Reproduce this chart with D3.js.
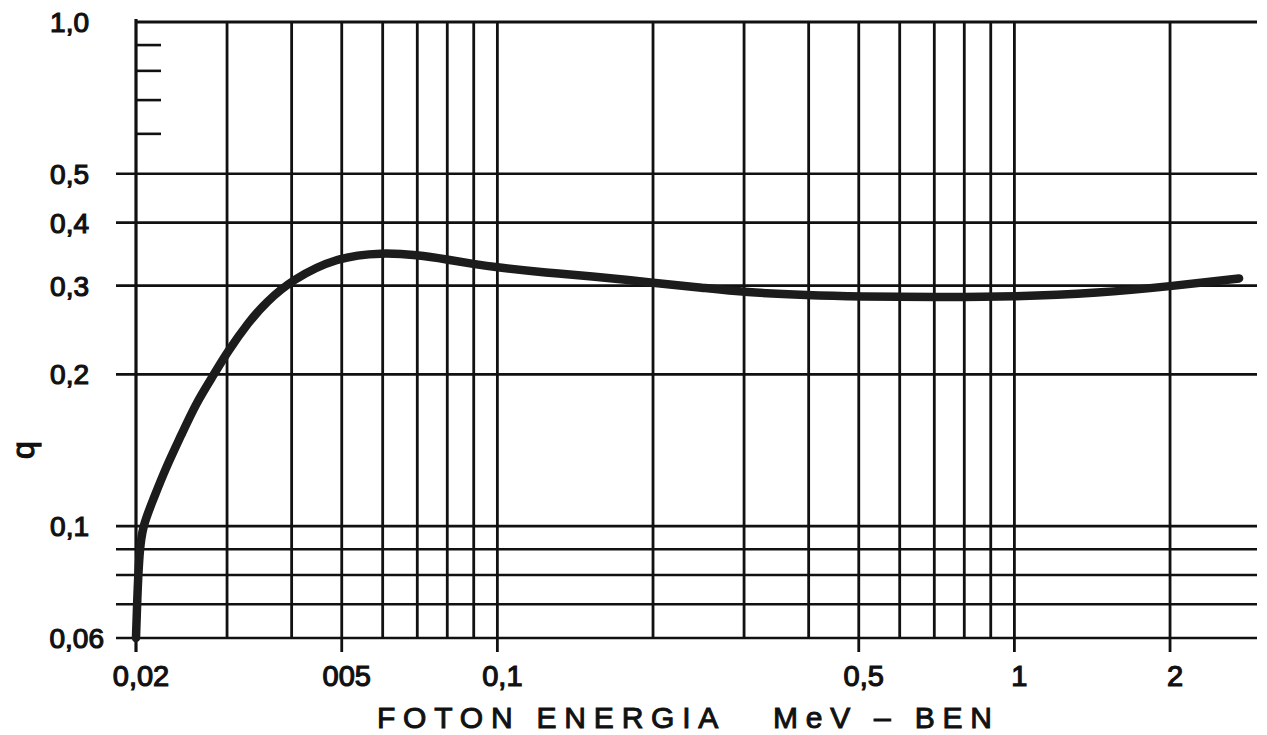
<!DOCTYPE html>
<html>
<head>
<meta charset="utf-8">
<script src="https://cdn.jsdelivr.net/npm/d3@7"></script>
<style>
    body { margin: 0; background: #fff; }
    svg { display: block; font-family: "Liberation Sans", Arial, sans-serif; }
</style>
</head>
<body>
<div id="root"></div>
<script>
// photon energy (MeV) and q
const energy = [0.0200, 0.0201, 0.0203, 0.0206, 0.0216, 0.0228, 0.0245, 0.0261, 0.0283, 0.0300,
    0.0331, 0.0357, 0.040, 0.049, 0.060, 0.070, 0.080, 0.090, 0.100, 0.125,
    0.150, 0.200, 0.250, 0.300, 0.400, 0.500, 0.700, 1.00, 1.46, 2.00, 2.72];
const qValues = [0.060, 0.071, 0.089, 0.100, 0.113, 0.130, 0.152, 0.175, 0.200, 0.221,
    0.255, 0.278, 0.308, 0.342, 0.349, 0.345, 0.338, 0.331, 0.326, 0.318,
    0.3136, 0.304, 0.297, 0.291, 0.287, 0.2855, 0.2845, 0.285, 0.290, 0.299, 0.310];

const xGrid = [0.02, 0.03, 0.04, 0.05, 0.06, 0.07, 0.08, 0.09, 0.1,
    0.2, 0.3, 0.4, 0.5, 0.6, 0.7, 0.8, 0.9, 1, 2];
const xTickValues = [0.02, 0.05, 0.1, 0.5, 1, 2];
const xTickLabels = ["0,02", "005", "0,1", "0,5", "1", "2"];

const yGrid = [0.06, 0.07, 0.08, 0.09, 0.1, 0.2, 0.3, 0.4, 0.5];
const yMinorTicks = [0.6, 0.7, 0.8, 0.9];
const yTickValues = [0.06, 0.1, 0.2, 0.3, 0.4, 0.5, 1];
const yTickLabels = ["0,06", "0,1", "0,2", "0,3", "0,4", "0,5", "1,0"];

const width = 1267, height = 735;
const ink = "#111";

const svg = d3.select("#root")
    .append("svg")
    .attr("width", width)
    .attr("height", height);

const x = d3.scaleLog()
    .domain([0.02, 2.946])
    .range([136, 1257]);

const y = d3.scaleLog()
    .domain([0.06, 1])
    .range([638, 22]);

const plotLeft = x(0.02), plotRight = x.range()[1];
const plotTop = y(1), plotBottom = y(0.06);

// vertical grid
svg.append("g")
    .selectAll("line")
    .data(xGrid)
    .enter()
    .append("line")
        .attr("x1", d => x(d))
        .attr("x2", d => x(d))
        .attr("y1", d => d === 0.02 ? plotTop - 3 : plotTop)
        .attr("y2", d => xTickValues.includes(d) ? plotBottom + 14 : plotBottom)
        .attr("stroke", ink)
        .attr("stroke-width", d => d === 0.02 ? 3.2 : 2.8);

// horizontal grid, sticking out a little to the left
svg.append("g")
    .selectAll("line")
    .data(yGrid)
    .enter()
    .append("line")
        .attr("x1", plotLeft - 20)
        .attr("x2", plotRight)
        .attr("y1", d => y(d))
        .attr("y2", d => y(d))
        .attr("stroke", ink)
        .attr("stroke-width", 2.6);

svg.append("line")
    .attr("x1", plotLeft)
    .attr("x2", plotRight)
    .attr("y1", plotTop)
    .attr("y2", plotTop)
    .attr("stroke", ink)
    .attr("stroke-width", 2.8);

// short ticks between 0.5 and 1.0
svg.append("g")
    .selectAll("line")
    .data(yMinorTicks)
    .enter()
    .append("line")
        .attr("x1", plotLeft)
        .attr("x2", plotLeft + 25)
        .attr("y1", d => y(d))
        .attr("y2", d => y(d))
        .attr("stroke", ink)
        .attr("stroke-width", 2.6);

// the curve
const line = d3.line()
    .x((d, i) => x(energy[i]))
    .y(d => y(d))
    .curve(d3.curveBasis);

svg.append("path")
    .datum(qValues)
    .attr("d", line)
    .attr("fill", "none")
    .attr("stroke", "#1c1c1c")
    .attr("stroke-width", 8.5)
    .attr("stroke-linecap", "round")
    .attr("stroke-linejoin", "round");

// tick labels
svg.append("g")
    .selectAll("text")
    .data(xTickValues)
    .enter()
    .append("text")
        .attr("x", d => x(d) + 5)
        .attr("y", 686)
        .attr("text-anchor", "middle")
        .attr("font-size", 29)
        .attr("fill", ink)
        .attr("stroke", ink)
        .attr("stroke-width", 1.2)
        .text((d, i) => xTickLabels[i]);

svg.append("g")
    .selectAll("text")
    .data(yTickValues)
    .enter()
    .append("text")
        .attr("x", d => d === 0.06 ? 104 : 89)
        .attr("y", d => y(d))
        .attr("dy", "0.36em")
        .attr("text-anchor", "end")
        .attr("font-size", 28)
        .attr("fill", ink)
        .attr("stroke", ink)
        .attr("stroke-width", 1.2)
        .text((d, i) => yTickLabels[i]);

// axis titles
svg.append("text")
    .attr("x", 377)
    .attr("y", 728)
    .attr("font-size", 30)
    .attr("textLength", 615)
    .attr("lengthAdjust", "spacing")
    .attr("fill", ink)
    .attr("stroke", ink)
    .attr("stroke-width", 1)
    .attr("xml:space", "preserve")
    .text("FOTON ENERGIA   MeV – BEN");

svg.append("text")
    .attr("transform", "translate(24, 450) rotate(-90)")
    .attr("text-anchor", "middle")
    .attr("dy", "0.3em")
    .attr("font-size", 32)
    .attr("fill", ink)
    .attr("stroke", ink)
    .attr("stroke-width", 1.2)
    .text("q");
</script>
</body>
</html>
